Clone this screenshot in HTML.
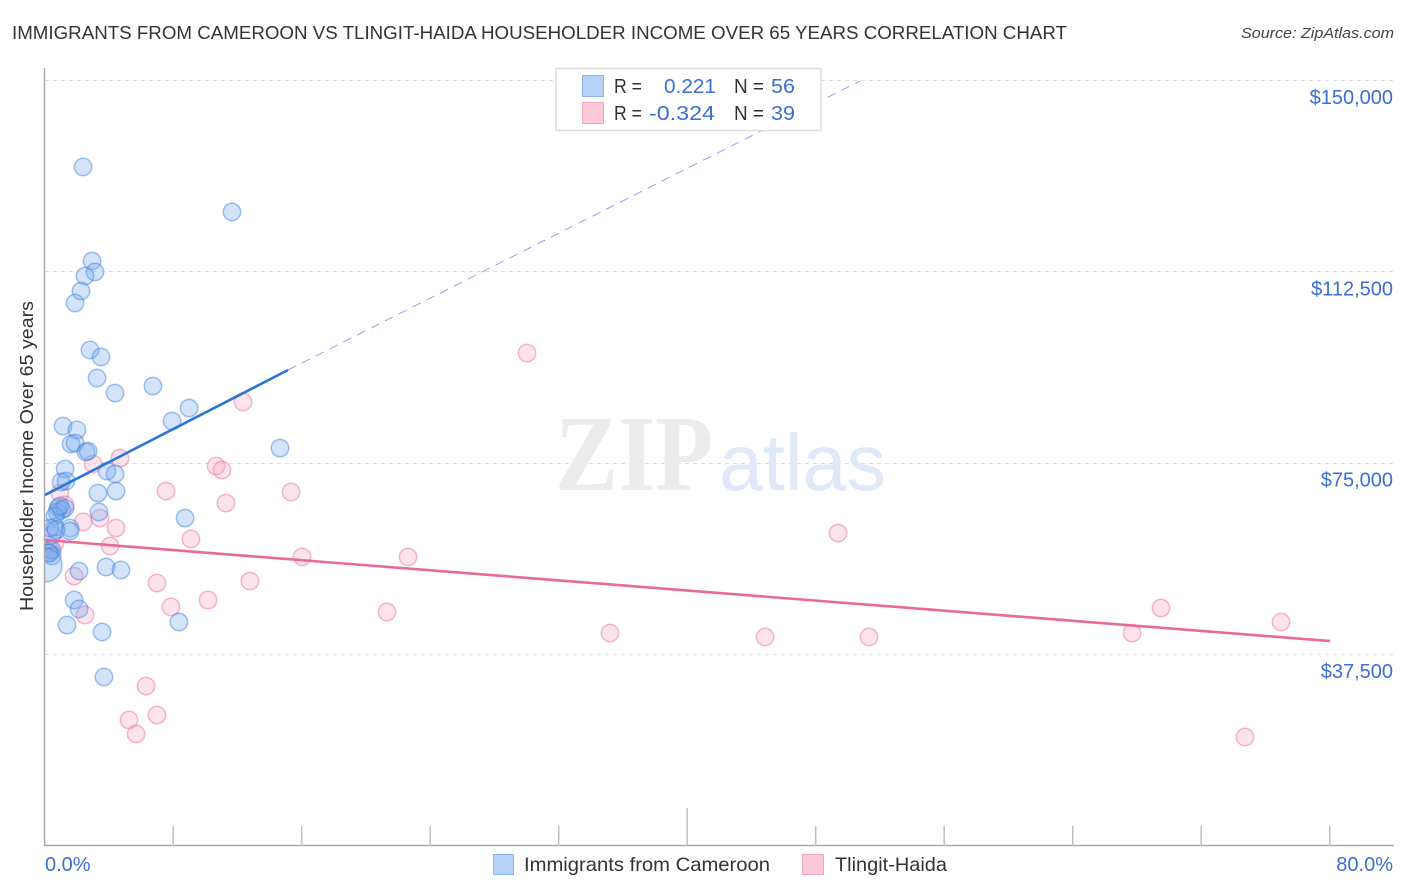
<!DOCTYPE html>
<html lang="en">
<head>
<meta charset="utf-8">
<title>Immigrants from Cameroon vs Tlingit-Haida Householder Income Correlation Chart</title>
<style>
html,body{margin:0;padding:0;background:#fff;width:1406px;height:892px;overflow:hidden}
svg{display:block;font-family:"Liberation Sans",sans-serif}
</style>
</head>
<body>
<svg id="chart" xmlns="http://www.w3.org/2000/svg" width="1406" height="892" viewBox="0 0 1406 892">
  <defs>
    <clipPath id="plot-clip"><rect x="45" y="60" width="1350" height="786"/></clipPath>
  </defs>
  <rect x="0" y="0" width="1406" height="892" fill="#ffffff"/>
  <text x="12" y="39" font-size="18.3" fill="#333333" textLength="1055" lengthAdjust="spacingAndGlyphs">IMMIGRANTS FROM CAMEROON VS TLINGIT-HAIDA HOUSEHOLDER INCOME OVER 65 YEARS CORRELATION CHART</text>
  <text x="1241" y="38" font-size="15" font-style="italic" fill="#444444" textLength="153" lengthAdjust="spacingAndGlyphs">Source: ZipAtlas.com</text>

  <g id="grid-layer"></g>

  <g>
    <text x="555" y="490" font-family="'Liberation Serif',serif" font-size="108" font-weight="bold" fill="#ececec" textLength="158" lengthAdjust="spacingAndGlyphs">ZIP</text>
    <text x="719" y="490" font-size="80" fill="#dfe9f8" textLength="167" lengthAdjust="spacingAndGlyphs">atlas</text>
  </g>

  <g id="axis-layer"></g>
  <g id="point-layer" clip-path="url(#plot-clip)"></g>
  <g id="trend-layer" clip-path="url(#plot-clip)"></g>
  <g id="label-layer"></g>

  <text transform="translate(33,611) rotate(-90)" font-size="18.5" fill="#333333" textLength="310" lengthAdjust="spacingAndGlyphs">Householder Income Over 65 years</text>

  <g>
    <rect x="556" y="68.5" width="265" height="62" fill="#ffffff" stroke="#dddddd" stroke-width="1.5"/>
    <rect x="582.5" y="75.5" width="21" height="21" fill="#b6d2f7" stroke="#8db5ea" stroke-width="1"/>
    <rect x="582.5" y="102.5" width="21" height="21" fill="#fdc9d9" stroke="#f0a6c0" stroke-width="1"/>
    <text x="614" y="93" font-size="20" fill="#333333" textLength="28" lengthAdjust="spacingAndGlyphs">R =</text>
    <text x="664" y="93" font-size="20" fill="#3b6fd4" textLength="52" lengthAdjust="spacingAndGlyphs">0.221</text>
    <text x="734" y="93" font-size="20" fill="#333333" textLength="30" lengthAdjust="spacingAndGlyphs">N =</text>
    <text x="771" y="93" font-size="20" fill="#3b6fd4" textLength="24" lengthAdjust="spacingAndGlyphs">56</text>
    <text x="614" y="120" font-size="20" fill="#333333" textLength="28" lengthAdjust="spacingAndGlyphs">R =</text>
    <text x="649" y="120" font-size="20" fill="#3b6fd4" textLength="66" lengthAdjust="spacingAndGlyphs">-0.324</text>
    <text x="734" y="120" font-size="20" fill="#333333" textLength="30" lengthAdjust="spacingAndGlyphs">N =</text>
    <text x="771" y="120" font-size="20" fill="#3b6fd4" textLength="24" lengthAdjust="spacingAndGlyphs">39</text>
  </g>

  <g>
    <rect x="493.5" y="854.5" width="20" height="20" fill="#b6d2f7" stroke="#8db5ea" stroke-width="1"/>
    <text x="524" y="871" font-size="19.5" fill="#333333" textLength="246" lengthAdjust="spacingAndGlyphs">Immigrants from Cameroon</text>
    <rect x="802.5" y="854.5" width="21" height="20" fill="#fdc9d9" stroke="#f0a6c0" stroke-width="1"/>
    <text x="835" y="871" font-size="19.5" fill="#333333" textLength="112" lengthAdjust="spacingAndGlyphs">Tlingit-Haida</text>
  </g>
</svg>
<script>
const yTicks = [150000, 112500, 75000, 37500];
const yTickLabels = ["$150,000", "$112,500", "$75,000", "$37,500"];
const xTicks = [8, 16, 24, 32, 40, 48, 56, 64, 72, 80];
const xMajorTicks = [40];
const xEndLabels = ["0.0%", "80.0%"];

const cameroonPct = [2.37,11.64,2.93,3.11,2.49,2.24,1.87,2.80,3.49,3.24,6.72,4.36,8.97,7.91,1.12,1.99,1.62,1.87,2.55,2.68,14.63,1.25,3.86,4.36,1.31,1.00,3.30,4.42,8.72,3.36,0.81,0.75,1.06,1.25,0.62,0.62,1.56,1.56,0.44,0.31,0.44,2.12,3.80,4.73,1.81,2.12,1.37,3.55,8.34,3.67,0.31,0.25,0.68,0.44,0.93];
const cameroonIncome = [132950,124130,114520,112370,111580,108640,106290,97080,95710,91590,90020,88650,85710,83160,82180,81400,78660,78850,77090,77280,77870,73760,73360,72780,71400,71210,69050,69440,64150,65330,66110,65330,65720,66110,64540,62390,62190,61600,60820,57290,57880,53760,54550,53960,48080,46320,43180,41810,43770,32990,62190,57290,61800,56700,66500];
const cameroonLargePct = [0];
const cameroonLargeIncome = [54940];

const tlingitPct = [30.01,12.33,2.99,4.67,10.65,11.02,7.53,15.32,11.27,0.93,1.25,2.37,3.42,4.42,4.05,9.09,49.37,0.62,0.31,16.00,22.60,6.97,12.76,1.81,2.49,7.84,10.15,21.29,69.48,76.95,35.18,44.83,51.30,67.68,6.29,6.97,5.23,5.67,74.71];
const tlingitIncome = [96490,86890,74740,75910,74340,73560,69440,69250,67090,69050,66700,63370,64150,62190,58660,60040,61210,59250,57880,56510,56510,51410,51800,52780,45140,46710,48080,45730,46510,43770,41610,40830,40830,41610,31220,25540,24560,21820,21230];

const cameroonTrendPct = [0, 15.13];
const cameroonTrendIncome = [68660, 93160];
const cameroonForecastPct = [15.13, 50.74];
const cameroonForecastIncome = [93160, 149800];
const tlingitTrendPct = [0, 80];
const tlingitTrendIncome = [59840, 40040];

const NS = "http://www.w3.org/2000/svg";
function xScale(pct) { return 45 + pct * (1285 / 80); }
function yScale(income) { return 80 + (150000 - income) * (191.33 / 37500); }
function make(tag, attrs, parent) {
  const el = document.createElementNS(NS, tag);
  for (const k in attrs) el.setAttribute(k, attrs[k]);
  parent.appendChild(el);
  return el;
}

const gridLayer = document.getElementById("grid-layer");
const axisLayer = document.getElementById("axis-layer");
const pointLayer = document.getElementById("point-layer");
const trendLayer = document.getElementById("trend-layer");
const labelLayer = document.getElementById("label-layer");

yTicks.forEach(function (tick, i) {
  const y = Math.round(yScale(tick)) + 0.5;
  const line = make("line", {x1: 45, x2: 1394, y1: y, y2: y, stroke: "#dddddd", "stroke-width": 1, "stroke-dasharray": "4 4"}, gridLayer);
  
  
  const label = make("text", {x: 1393, y: yScale(tick) + 24, "text-anchor": "end", "font-size": 20, fill: "#3b6fd4"}, labelLayer);
  label.textContent = yTickLabels[i];
  
  
});

const yAxisLine = make("line", {x1: 44.5, x2: 44.5, y1: 68, y2: 846, stroke: "#aaaaaa", "stroke-width": 1.5}, axisLayer);


const xAxisLine = make("line", {x1: 44, x2: 1394, y1: 845.5, y2: 845.5, stroke: "#aaaaaa", "stroke-width": 1.5}, axisLayer);



xTicks.forEach(function (tick) {
  const x = xScale(tick) - 0.3;
  const top = xMajorTicks.includes(tick) ? 808 : 826;
  const mark = make("line", {x1: x, x2: x, y1: top, y2: 846, stroke: "#c0c0c0", "stroke-width": 1.5}, axisLayer);
  
  
});

const xLabelStart = make("text", {x: 45, y: 871, "font-size": 20, fill: "#3b6fd4"}, labelLayer);
xLabelStart.textContent = xEndLabels[0];


const xLabelEnd = make("text", {x: 1393, y: 871, "text-anchor": "end", "font-size": 20, fill: "#3b6fd4"}, labelLayer);
xLabelEnd.textContent = xEndLabels[1];



const blueStyle = {fill: "rgba(120,170,240,0.33)", stroke: "rgba(60,130,220,0.48)", "stroke-width": 1.5};
const pinkStyle = {fill: "rgba(248,170,195,0.33)", stroke: "rgba(232,110,155,0.48)", "stroke-width": 1.5};

function dot(pct, income, r, style, name) {
  const attrs = Object.assign({cx: xScale(pct), cy: yScale(income), r: r}, style);
  const c = make("circle", attrs, pointLayer);
  
  
}
tlingitPct.forEach(function (p, i) { dot(p, tlingitIncome[i], 8.7, pinkStyle, "tlingit-point"); });
cameroonPct.forEach(function (p, i) { dot(p, cameroonIncome[i], 8.7, blueStyle, "cameroon-point"); });
cameroonLargePct.forEach(function (p, i) { dot(p, cameroonLargeIncome[i], 17, blueStyle, "cameroon-large-point"); });

function trend(xs, vs, color, width, dash, name) {
  const attrs = {x1: xScale(xs[0]), y1: yScale(vs[0]), x2: xScale(xs[1]), y2: yScale(vs[1]), stroke: color, "stroke-width": width, "stroke-linecap": "butt"};
  if (dash) attrs["stroke-dasharray"] = dash;
  const l = make("line", attrs, trendLayer);
  
  
}
trend(cameroonForecastPct, cameroonForecastIncome, "#8aa8e4", 1, "9 6.5", "cameroon-trend-forecast");
trend(cameroonTrendPct, cameroonTrendIncome, "#2a75d8", 2.6, null, "cameroon-trend-line");
trend(tlingitTrendPct, tlingitTrendIncome, "#e8699a", 2.6, null, "tlingit-trend-line");
</script>
</body>
</html>
